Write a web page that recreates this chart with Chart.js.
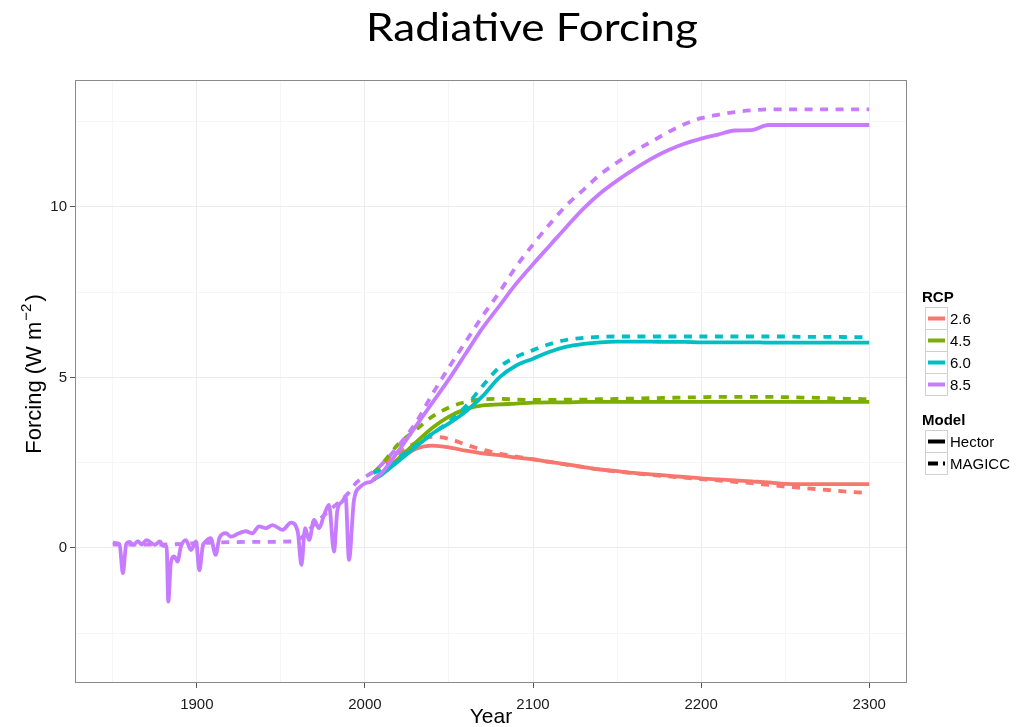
<!DOCTYPE html>
<html><head><meta charset="utf-8">
<script src="https://cdn.jsdelivr.net/npm/chart.js@4"></script>
<style>html,body{margin:0;padding:0;background:#fff}canvas{display:block}</style>
</head><body>
<canvas id="c" width="1032" height="727"></canvas>
<script>
// ---------- data ----------
const histYears = [1850,1852,1854,1856,1858,1860,1862,1865,1867,1870,1873,1875,1878,1880,1882,1883,1884.5,1886.5,1888.5,1890.5,1893.5,1896.5,1899.5,1901.5,1903.5,1905.2,1908.2,1911.2,1913.4,1917.3,1920.3,1925,1929,1933,1937,1941,1945,1951,1956,1960,1962.2,1964.4,1966.8,1969.7,1972.7,1975.7,1978.6,1981.6,1983.6,1986.5,1988.5,1990.5,1993.5,1997.4,2000.4,2004];
const histHector = [0.16,0.14,0.1,-0.74,0.12,0.18,0.09,0.2,0.1,0.23,0.14,0.09,0.19,0.06,0.05,-1.57,-0.45,-0.25,-0.4,0.04,0.23,-0.06,0.19,-0.66,0.05,0.19,0.29,-0.2,0.29,0.43,0.33,0.43,0.49,0.43,0.63,0.58,0.67,0.53,0.74,0.48,-0.5,0.58,0.23,0.82,0.58,0.97,1.26,-0.11,1.11,1.36,1.5,-0.35,1.41,1.8,1.9,1.95];
const histMagiccYears = [1850,1860,1880,1900,1920,1940,1957,1962,1970,1980,1990,1995,2000,2004];
const histMagicc = [0.1,0.1,0.1,0.14,0.17,0.18,0.19,0.3,0.7,1.15,1.6,1.92,2.08,2.2];

const futureYears = [2005,2010,2020,2030,2040,2050,2060,2070,2080,2090,2100,2110,2120,2130,2140,2150,2160,2170,2180,2190,2200,2210,2220,2230,2240,2250,2260,2270,2280,2290,2300];
const hector26 = [2.0,2.2,2.58,2.9,3.0,2.95,2.85,2.77,2.72,2.65,2.6,2.52,2.45,2.37,2.3,2.25,2.2,2.16,2.12,2.08,2.04,2.01,1.98,1.95,1.92,1.88,1.87,1.87,1.87,1.87,1.87];
const magicc26 = [2.2,2.4,2.78,3.08,3.26,3.2,3.03,2.88,2.77,2.68,2.6,2.52,2.44,2.37,2.3,2.24,2.19,2.14,2.1,2.06,2.02,1.98,1.94,1.9,1.85,1.8,1.76,1.72,1.68,1.64,1.61];
const hector45 = [2.0,2.2,2.62,3.08,3.52,3.85,4.07,4.18,4.21,4.23,4.26,4.27,4.27,4.28,4.28,4.28,4.28,4.28,4.28,4.28,4.28,4.28,4.28,4.28,4.28,4.28,4.28,4.28,4.28,4.28,4.28];
const magicc45 = [2.2,2.45,3.05,3.45,3.85,4.12,4.28,4.36,4.37,4.35,4.34,4.34,4.35,4.35,4.36,4.37,4.38,4.39,4.4,4.41,4.42,4.43,4.43,4.43,4.43,4.42,4.41,4.4,4.38,4.37,4.36];
const hector60 = [2.0,2.15,2.55,2.95,3.35,3.65,4.0,4.45,5.0,5.35,5.55,5.75,5.9,5.98,6.03,6.05,6.05,6.05,6.04,6.04,6.03,6.03,6.03,6.03,6.02,6.02,6.02,6.02,6.02,6.02,6.02];
const magicc60 = [2.2,2.3,2.65,3.0,3.35,3.7,4.15,4.75,5.3,5.6,5.8,5.98,6.1,6.16,6.19,6.2,6.2,6.2,6.2,6.2,6.2,6.2,6.2,6.2,6.2,6.2,6.19,6.19,6.19,6.18,6.18];
const hector85 = [2.0,2.2,2.85,3.55,4.25,4.95,5.7,6.45,7.1,7.75,8.32,8.87,9.42,9.95,10.4,10.77,11.1,11.4,11.65,11.85,12.0,12.12,12.24,12.25,12.4,12.4,12.4,12.4,12.4,12.4,12.4];
const magicc85 = [2.24,2.45,3.0,3.65,4.5,5.3,6.05,6.8,7.5,8.25,8.9,9.5,10.05,10.5,10.95,11.3,11.62,11.9,12.18,12.42,12.6,12.7,12.78,12.83,12.86,12.86,12.86,12.86,12.86,12.86,12.86];

const rcpLabels = ['2.6','4.5','6.0','8.5'];
const modelLabels = ['Hector','MAGICC'];
const xMajorTicks = [1900,2000,2100,2200,2300];
const xMinorTicks = [1850,1950,2050,2150,2250];
const yMajorTicks = [0,5,10];
const yMinorTicks = [-2.5,2.5,7.5,12.5];
const titleText = 'Radiative Forcing';
const xTitle = 'Year';

// ---------- styles ----------
const rcpColors = ['#F8766D','#7CAE00','#00BFC4','#C77CFF'];
const DASH = [8,7.5];
const LW = 3.8;

function pts(xs, ys){ return xs.map((x,i)=>({x:x, y:ys[i]})); }

const series = [
  {d: pts(futureYears, hector26), c: 0, m: 0},
  {d: pts(futureYears, magicc26), c: 0, m: 1},
  {d: pts(futureYears, hector45), c: 1, m: 0},
  {d: pts(futureYears, magicc45), c: 1, m: 1},
  {d: pts(futureYears, hector60), c: 2, m: 0},
  {d: pts(futureYears, magicc60), c: 2, m: 1},
  {d: pts(histYears, histHector).concat(pts(futureYears, hector85)), c: 3, m: 0},
  {d: pts(histMagiccYears, histMagicc).concat(pts(futureYears, magicc85)), c: 3, m: 1},
];
const datasets = series.map((s,i)=>({
  data: s.d,
  borderColor: rcpColors[s.c],
  backgroundColor: rcpColors[s.c],
  borderWidth: LW,
  borderDash: s.m ? DASH : [],
  borderCapStyle: 'butt',
  borderJoinStyle: 'round',
  pointRadius: 0,
  fill: false,
  cubicInterpolationMode: 'monotone',
  order: series.length - i
}));

const FONT = '"Liberation Sans", Arial, sans-serif';

const decor = {
  id: 'decor',
  afterDatasetsDraw(chart){
    const {ctx, chartArea: a} = chart;
    ctx.save();
    ctx.strokeStyle = '#8a8a8a';
    ctx.lineWidth = 1;
    ctx.strokeRect(Math.round(a.left)+0.5, Math.round(a.top)+0.5, Math.round(a.right-a.left)-1, Math.round(a.bottom-a.top)-1);
    ctx.restore();
  },
  afterDraw(chart){
    const {ctx, chartArea: a} = chart;
    ctx.save();
    // title
    ctx.fillStyle = '#000';
    ctx.font = '39px Lato';
    const tw = ctx.measureText(titleText).width;
    ctx.save();
    ctx.translate(532, 41);
    ctx.scale(332 / tw, 1);
    ctx.textAlign = 'center';
    ctx.textBaseline = 'alphabetic';
    ctx.fillText(titleText, 0, 0);
    ctx.restore();

    // x title
    ctx.textAlign = 'center';
    ctx.font = '21px ' + FONT;
    ctx.fillStyle = '#000';
    ctx.fillText(xTitle, (a.left + a.right)/2, 723);

    // y title with superscript
    ctx.save();
    ctx.translate(41, 374);
    ctx.rotate(-Math.PI/2);
    ctx.textAlign = 'left';
    const p1 = 'Forcing (W m', p2 = '\u22122', p3 = ')';
    ctx.font = '22px ' + FONT; const w1 = ctx.measureText(p1).width, w3 = ctx.measureText(p3).width;
    ctx.font = '15px ' + FONT; const w2 = ctx.measureText(p2).width;
    let x0 = -(w1 + w2 + w3 + 3)/2;
    ctx.font = '22px ' + FONT; ctx.fillText(p1, x0, 0);
    ctx.font = '15px ' + FONT; ctx.fillText(p2, x0 + w1 + 1, -10);
    ctx.font = '22px ' + FONT; ctx.fillText(p3, x0 + w1 + w2 + 3, 0);
    ctx.restore();

    // legend
    const kx = 925.5, kw = 22, kh = 22;
    ctx.textAlign = 'left';
    ctx.font = 'bold 15px ' + FONT;
    ctx.fillStyle = '#000';
    ctx.fillText('RCP', 922, 302);
    ctx.font = '15px ' + FONT;
    rcpLabels.forEach((lab,i)=>{
      const top = 307.5 + i*kh;
      ctx.fillStyle = '#fff';
      ctx.fillRect(kx, top, kw, kh);
      ctx.strokeStyle = '#d0d0d0'; ctx.lineWidth = 1; ctx.setLineDash([]);
      ctx.strokeRect(kx, top, kw, kh);
      ctx.strokeStyle = rcpColors[i]; ctx.lineWidth = 4; ctx.lineCap = 'butt';
      ctx.beginPath(); ctx.moveTo(kx+2.5, top+kh/2); ctx.lineTo(kx+kw-2.5, top+kh/2); ctx.stroke();
      ctx.fillStyle = '#000';
      ctx.fillText(lab, 950, top + kh/2 + 5.5);
    });
    ctx.font = 'bold 15px ' + FONT;
    ctx.fillText('Model', 922, 425);
    ctx.font = '15px ' + FONT;
    modelLabels.forEach((lab,i)=>{
      const top = 430.5 + i*kh;
      ctx.fillStyle = '#fff';
      ctx.fillRect(kx, top, kw, kh);
      ctx.strokeStyle = '#d0d0d0'; ctx.lineWidth = 1; ctx.setLineDash([]);
      ctx.strokeRect(kx, top, kw, kh);
      ctx.strokeStyle = '#000'; ctx.lineWidth = 4; ctx.lineCap = 'butt';
      ctx.setLineDash(i ? [10,5] : []);
      ctx.beginPath(); ctx.moveTo(kx+2.5, top+kh/2); ctx.lineTo(kx+kw-2.5, top+kh/2); ctx.stroke();
      ctx.setLineDash([]);
      ctx.fillStyle = '#000';
      ctx.fillText(lab, 950, top + kh/2 + 5.5);
    });
    ctx.restore();
  }
};

function isMajorX(v){ return xMajorTicks.includes(v); }
function isMajorY(v){ return yMajorTicks.includes(v); }

new Chart(document.getElementById('c'), {
  type: 'line',
  data: { datasets: datasets },
  options: {
    responsive: false,
    animation: false,
    events: [],
    layout: { padding: { left: 0, right: 125, top: 80, bottom: 0 } },
    plugins: { legend: { display: false }, tooltip: { enabled: false }, title: { display: false } },
    scales: {
      x: {
        type: 'linear', min: 1827.5, max: 2322.5,
        afterBuildTicks: s => { s.ticks = xMinorTicks.concat(xMajorTicks).sort((a,b)=>a-b).map(v=>({value:v})); },
        afterFit: s => { s.height = 44; },
        ticks: { autoSkip: false, maxRotation: 0, padding: 8, color: '#1a1a1a', font: { family: FONT, size: 15 },
                 callback: v => isMajorX(v) ? String(v) : '' },
        grid: { color: c => isMajorX(c.tick.value) ? '#ececec' : '#f6f6f6', lineWidth: 1, tickLength: 5,
                tickColor: c => isMajorX(c.tick.value) ? '#555' : 'rgba(0,0,0,0)' },
        border: { display: false }
      },
      y: {
        type: 'linear', min: -3.96, max: 13.72,
        afterBuildTicks: s => { s.ticks = yMinorTicks.concat(yMajorTicks).sort((a,b)=>a-b).map(v=>({value:v})); },
        afterFit: s => { s.width = 75; },
        ticks: { autoSkip: false, padding: 3, color: '#1a1a1a', font: { family: FONT, size: 15 },
                 callback: v => isMajorY(v) ? String(v) : '' },
        grid: { color: c => isMajorY(c.tick.value) ? '#ececec' : '#f6f6f6', lineWidth: 1, tickLength: 5,
                tickColor: c => isMajorY(c.tick.value) ? '#555' : 'rgba(0,0,0,0)' },
        border: { display: false }
      }
    }
  },
  plugins: [decor]
});
</script>
</body></html>
